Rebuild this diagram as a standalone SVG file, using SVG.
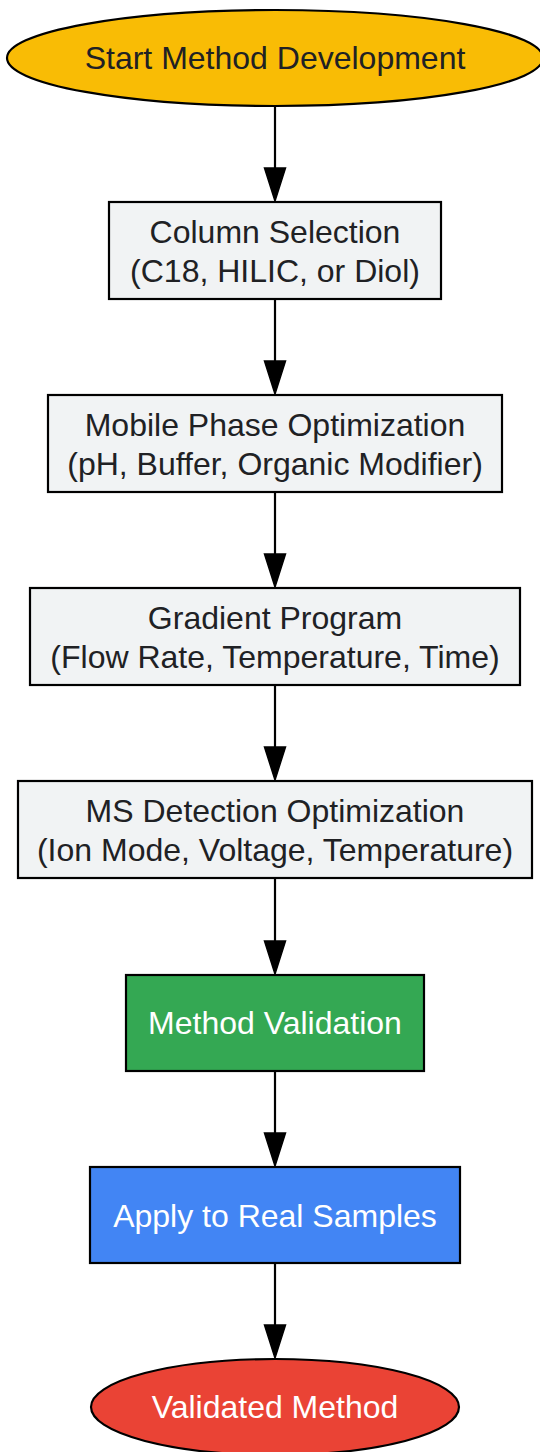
<svg xmlns="http://www.w3.org/2000/svg" width="540" height="1452" viewBox="0 0 540 1452">
<style>
.n{stroke:#000;stroke-width:2.2}
.g{fill:#F1F3F4}
.t{font-family:"Liberation Sans",Arial,sans-serif;font-size:32px;text-anchor:middle;fill:#202124}
.w{fill:#FFFFFF}
.e{stroke:#000;stroke-width:2.2;fill:none}
.h{fill:#000;stroke:#000;stroke-width:1.5}
</style>
<rect width="540" height="1452" fill="#fff"/>
<g id="connectors">
<path class="e" d="M275,106 V170"/><path class="h" d="M264.5,168 L285.5,168 L275,201 Z"/>
<path class="e" d="M275,299 V363"/><path class="h" d="M264.5,361 L285.5,361 L275,394 Z"/>
<path class="e" d="M275,492 V556"/><path class="h" d="M264.5,554 L285.5,554 L275,587 Z"/>
<path class="e" d="M275,685 V749"/><path class="h" d="M264.5,747 L285.5,747 L275,780 Z"/>
<path class="e" d="M275,878 V943"/><path class="h" d="M264.5,941 L285.5,941 L275,974 Z"/>
<path class="e" d="M275,1071 V1135"/><path class="h" d="M264.5,1133 L285.5,1133 L275,1166 Z"/>
<path class="e" d="M275,1263 V1327"/><path class="h" d="M264.5,1325 L285.5,1325 L275,1358 Z"/>
</g>
<g id="start">
<ellipse class="n" cx="275" cy="58" rx="268" ry="48" fill="#F9BC05"/>
<text class="t" x="275" y="69">Start Method Development</text>
</g>
<g id="column">
<rect class="n g" x="109" y="202" width="332" height="97"/>
<text class="t" x="275" y="243">Column Selection</text>
<text class="t" x="275" y="282">(C18, HILIC, or Diol)</text>
</g>
<g id="mobile">
<rect class="n g" x="48" y="395" width="454" height="97"/>
<text class="t" x="275" y="436">Mobile Phase Optimization</text>
<text class="t" x="275" y="475">(pH, Buffer, Organic Modifier)</text>
</g>
<g id="gradient">
<rect class="n g" x="30" y="588" width="490" height="97"/>
<text class="t" x="275" y="629">Gradient Program</text>
<text class="t" x="275" y="668">(Flow Rate, Temperature, Time)</text>
</g>
<g id="ms">
<rect class="n g" x="18" y="781" width="514" height="97"/>
<text class="t" x="275" y="822">MS Detection Optimization</text>
<text class="t" x="275" y="861">(Ion Mode, Voltage, Temperature)</text>
</g>
<g id="validation">
<rect class="n" x="126" y="975" width="298" height="96" fill="#34A853"/>
<text class="t w" x="275" y="1034">Method Validation</text>
</g>
<g id="apply">
<rect class="n" x="90" y="1167" width="370" height="96" fill="#4285F4"/>
<text class="t w" x="275" y="1227">Apply to Real Samples</text>
</g>
<g id="end">
<ellipse class="n" cx="275" cy="1407" rx="184" ry="48" fill="#EA4335"/>
<text class="t w" x="275" y="1418">Validated Method</text>
</g>
</svg>
